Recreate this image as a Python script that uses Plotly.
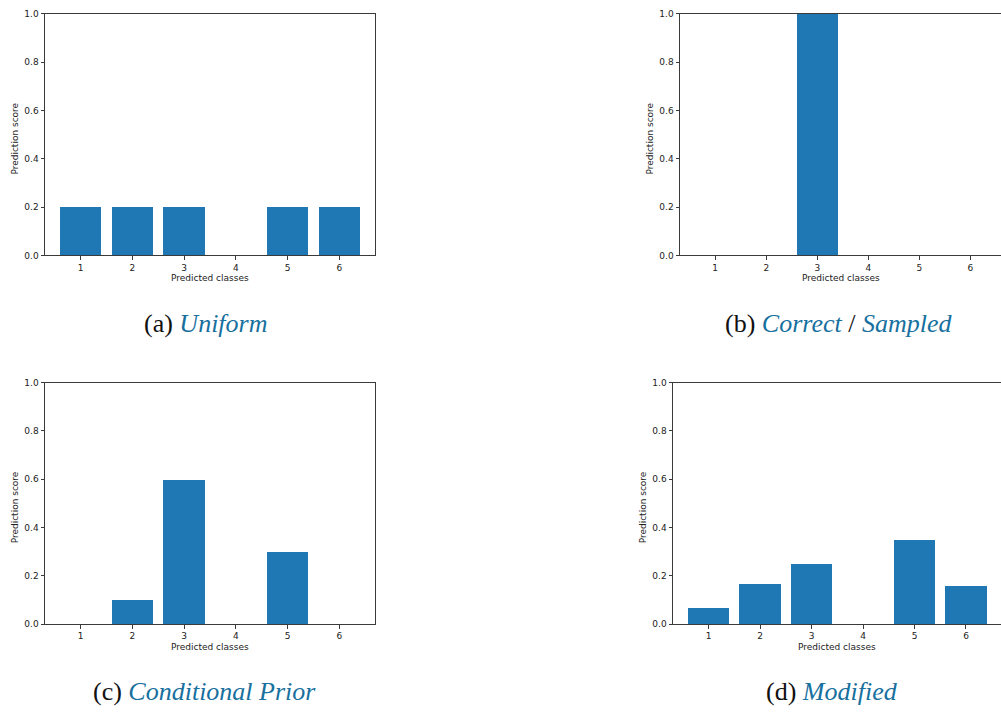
import plotly.graph_objects as go

# Class indices shown on every panel
classes = [1, 2, 3, 4, 5, 6]

# Prediction scores per strategy
uniform_scores = [0.2, 0.2, 0.2, 0.0, 0.2, 0.2]
correct_scores = [0.0, 0.0, 1.0, 0.0, 0.0, 0.0]
conditional_scores = [0.0, 0.1, 0.6, 0.0, 0.3, 0.0]
modified_scores = [0.07, 0.17, 0.25, 0.0, 0.35, 0.16]

y_ticks = [0.0, 0.2, 0.4, 0.6, 0.8, 1.0]

W, H = 1001, 713
BAR_COLOR = "#1f77b4"
CAPTION_BLUE = "#17709e"
AXIS_COLOR = "#3a3a3a"
TICK_FONT = dict(family="DejaVu Sans", size=9, color="#222222")


def px_x(v):
    return v / W


def px_y(v):
    return (H - v) / H


# (left, right, top, bottom) in pixels, x range, caption parts, caption centre
panels = [
    dict(scores=uniform_scores, box=(45, 375, 9, 254), xr=[0.31, 6.69],
         caption="(a) <i><span style='color:%s'>Uniform</span></i>" % CAPTION_BLUE,
         cap_xy=(205, 323), right_spine=True),
    dict(scores=correct_scores, box=(680, 1001, 9, 254), xr=[0.31, 6.60],
         caption="(b) <i><span style='color:%s'>Correct</span></i> / "
                 "<i><span style='color:%s'>Sampled</span></i>" % (CAPTION_BLUE, CAPTION_BLUE),
         cap_xy=(839, 323), right_spine=False),
    dict(scores=conditional_scores, box=(45, 375, 383, 628), xr=[0.31, 6.69],
         caption="(c) <i><span style='color:%s'>Conditional Prior</span></i>" % CAPTION_BLUE,
         cap_xy=(204, 696), right_spine=True),
    dict(scores=modified_scores, box=(673, 1001, 383, 628), xr=[0.31, 6.68],
         caption="(d) <i><span style='color:%s'>Modified</span></i>" % CAPTION_BLUE,
         cap_xy=(832, 696), right_spine=False),
]

fig = go.Figure()
annotations = []
layout_axes = {}

for i, p in enumerate(panels, start=1):
    sfx = "" if i == 1 else str(i)
    left, right, top, bottom = p["box"]
    fig.add_trace(go.Bar(
        x=classes, y=p["scores"], width=0.8,
        marker=dict(color=BAR_COLOR, line=dict(width=0)),
        xaxis="x" + sfx, yaxis="y" + sfx, showlegend=False,
    ))
    layout_axes["xaxis" + sfx] = dict(
        domain=[px_x(left), px_x(right)], anchor="y" + sfx,
        range=p["xr"], tickmode="array", tickvals=classes,
        ticktext=[str(c) for c in classes],
        showline=True, linecolor=AXIS_COLOR, linewidth=1, mirror=True,
        ticks="outside", ticklen=3.5, tickwidth=0.8, tickcolor=AXIS_COLOR,
        showgrid=False, zeroline=False, tickfont=TICK_FONT, fixedrange=True,
    )
    layout_axes["yaxis" + sfx] = dict(
        domain=[px_y(bottom), px_y(top)], anchor="x" + sfx,
        range=[0, 1], tickmode="array", tickvals=y_ticks,
        ticktext=["%.1f" % t for t in y_ticks],
        showline=True, linecolor=AXIS_COLOR, linewidth=1,
        mirror=p["right_spine"],
        ticks="outside", ticklen=3.5, tickwidth=0.8, tickcolor=AXIS_COLOR,
        showgrid=False, zeroline=False, tickfont=TICK_FONT, fixedrange=True,
    )
    # axis titles
    annotations.append(dict(
        text="Predicted classes", xref="paper", yref="paper",
        x=px_x((left + right) / 2), y=px_y(bottom + 23),
        xanchor="center", yanchor="middle", showarrow=False,
        font=dict(family="DejaVu Sans", size=9, color="#222222"),
    ))
    annotations.append(dict(
        text="Prediction score", xref="paper", yref="paper",
        x=px_x(left - 30), y=px_y((top + bottom) / 2 + 4),
        xanchor="center", yanchor="middle", showarrow=False, textangle=-90,
        font=dict(family="DejaVu Sans", size=9, color="#222222"),
    ))
    # caption
    cx, cy = p["cap_xy"]
    annotations.append(dict(
        text=p["caption"], xref="paper", yref="paper",
        x=px_x(cx), y=px_y(cy), xanchor="center", yanchor="middle",
        showarrow=False,
        font=dict(family="Liberation Serif", size=26, color="#111111"),
    ))

fig.update_layout(
    width=W, height=H,
    margin=dict(l=0, r=0, t=0, b=0),
    paper_bgcolor="white", plot_bgcolor="white",
    bargap=0, annotations=annotations, **layout_axes,
)

fig.write_html("out.html", config={"displayModeBar": False})
